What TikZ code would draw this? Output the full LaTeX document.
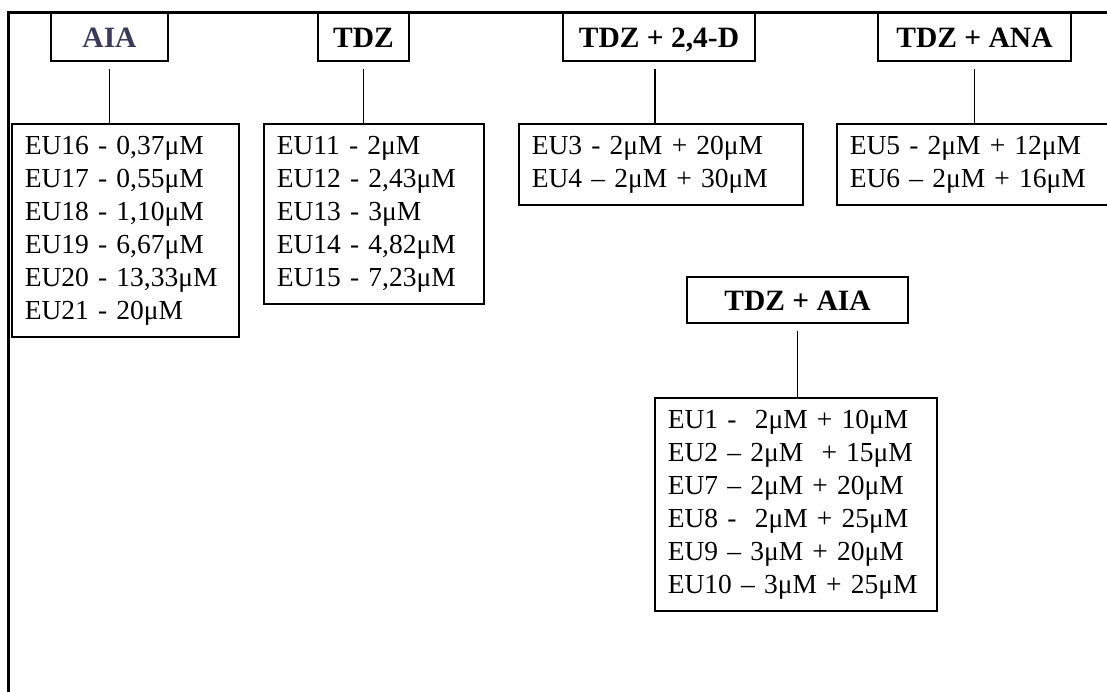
\documentclass[tikz,border=0pt]{standalone}
\usepackage{fontspec}
\setmainfont{Liberation Serif}
\usetikzlibrary{positioning}
\definecolor{aiablue}{RGB}{58,58,92}

\begin{document}
\begin{tikzpicture}[x=1pt, y=-1pt,
  hdbox/.style={draw, line width=1.6pt, inner sep=0pt, minimum height=48pt, text height=21pt, text depth=0pt, font=\fontsize{29.5}{33}\selectfont\bfseries},
  eubox/.style={draw, line width=1.6pt, anchor=north west, align=left, inner xsep=13pt, inner ysep=7.5pt, font=\fontsize{27.5}{33}\selectfont, execute at begin node=\strut, execute at end node=\strut},
  link/.style={line width=1.3pt}]
\useasboundingbox (0,0) rectangle (1107,692);
% frame
\draw[line width=3pt] (1112,13) -- (8,13) -- (8,697);
% heads
\node[hdbox, minimum width=117pt, text=aiablue] (aia) at (109.5,37) {AIA};
\node[hdbox, minimum width=91pt] (tdz) at (363.5,37) {TDZ};
\node[hdbox, minimum width=192pt] (tdzdd) at (659,37) {TDZ + 2,4-D};
\node[hdbox, minimum width=193pt] (tdzana) at (974.5,37) {TDZ + ANA};
\node[hdbox, minimum width=221pt, minimum height=46pt] (tdzaia) at (797.5,300) {TDZ + AIA};
% lists
\node[eubox, text width=201pt] (aialist) at (11,123) {EU16 - 0,37μM\\EU17 - 0,55μM\\EU18 - 1,10μM\\EU19 - 6,67μM\\EU20 - 13,33μM\\EU21 - 20μM};
\node[eubox, text width=194pt] (tdzlist) at (263,123) {EU11 - 2μM\\EU12 - 2,43μM\\EU13 - 3μM\\EU14 - 4,82μM\\EU15 - 7,23μM};
\node[eubox, text width=258pt] (tdzddlist) at (518,123) {EU3 - 2μM + 20μM\\EU4 – 2μM + 30μM};
\node[eubox, text width=258pt] (tdzanalist) at (836,123) {EU5 - 2μM + 12μM\\EU6 – 2μM + 16μM};
\node[eubox, text width=256pt] (tdzaialist) at (654,397) {EU1 -\ \ 2μM + 10μM\\EU2 – 2μM\ \ + 15μM\\EU7 – 2μM + 20μM\\EU8 -\ \ 2μM + 25μM\\EU9 – 3μM + 20μM\\EU10 – 3μM + 25μM};
% links
\draw[link] ([yshift=-7pt]aia.south) -- (aia.south |- aialist.north);
\draw[link] ([yshift=-7pt]tdz.south) -- (tdz.south |- tdzlist.north);
\draw[link] ([xshift=-4pt,yshift=-7pt]tdzdd.south) -- ([xshift=-4pt]tdzdd.south |- tdzddlist.north);
\draw[link] ([yshift=-7pt]tdzana.south) -- (tdzana.south |- tdzanalist.north);
\draw[link] ([yshift=-7pt]tdzaia.south) -- (tdzaia.south |- tdzaialist.north);
\end{tikzpicture}
\end{document}
